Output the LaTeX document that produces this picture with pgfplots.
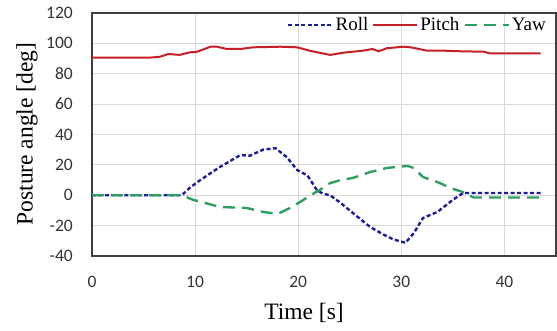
\documentclass[border=0pt]{standalone}
\usepackage{fontspec}
\setmainfont{Liberation Serif}
\newfontfamily\carlito{Carlito}
\usepackage{pgfplots}
\pgfplotsset{compat=1.18}
\definecolor{rollc}{HTML}{1C1C9C}
\definecolor{pitchc}{HTML}{C81E28}
\definecolor{yawc}{HTML}{2E9E62}
\definecolor{gridc}{HTML}{D9D9D9}
\definecolor{framec}{HTML}{404040}
\begin{document}
\begin{tikzpicture}
\path[use as bounding box] (-92pt,-75pt) rectangle (465pt,256pt);
\begin{axis}[
  at={(0,0)}, anchor=south west,
  scale only axis, width=464pt, height=243pt,
  xmin=0, xmax=45, ymin=-40, ymax=120,
  xtick={0,10,20,30,40}, ytick={-40,-20,0,20,40,60,80,100,120},
  major tick length=0pt,
  grid=major,
  major grid style={gridc, line width=0.9pt},
  axis line style={framec, line width=1.3pt},
  /pgf/number format/assume math mode=true,
  ticklabel style={font=\carlito\fontsize{17.5}{20}\selectfont, text=black!80},
  yticklabel style={anchor=east, inner sep=0pt, xshift=-19pt},
  xticklabel style={anchor=center, inner sep=0pt, yshift=-26pt},
  xlabel={Time [s]}, ylabel={Posture angle [deg]},
  label style={font=\fontsize{23.5}{26}\selectfont},
  xlabel style={at={(axis description cs:0.457,-0.2346)}, anchor=center},
  ylabel style={at={(axis description cs:-0.14,0.502)}, anchor=center},
  legend style={at={(rel axis cs:0.985,0.995)}, anchor=north east, draw=none, fill=none,
    font=\fontsize{19}{22}\selectfont, legend columns=3,
    /tikz/every even column/.append style={column sep=2pt},
    /tikz/every odd column/.append style={column sep=0pt},
    inner sep=1pt, cells={anchor=west}},
  legend image code/.code={\draw[#1] (0pt,0pt) -- (44pt,0pt);},
]
\addplot[rollc, line width=2.4pt, dash pattern=on 4pt off 2.5pt] coordinates {
(0,0)(8.7,0)(9.5,5)(10.5,10)(12.4,18.6)(14.4,26.5)(15.3,26)(16.6,30)(17.8,31)(18.9,25)(19.9,16.6)(20.9,13)(21.8,3.5)(22.4,1)(23.1,0)(24.1,-5)(25.3,-11.7)(27,-21)(28.3,-26)(29.2,-29)(30.4,-31.3)(31.2,-25)(32.1,-15)(33.5,-11)(35,-3)(36,1.5)(43.5,1.5)};
\addlegendentry{Roll\hspace{8pt}}
\addplot[pitchc, line width=2pt] coordinates {
(0,90.6)(5.6,90.6)(6.6,91.2)(7.4,93)(8.5,92.4)(9.5,94.1)(10.2,94.5)(11.5,97.8)(12.1,97.8)(13.1,96.3)(14.4,96.3)(15.6,97.4)(18.3,97.8)(19.9,97.4)(21.2,95)(23.1,92.4)(24.4,93.9)(26.3,95.2)(27.2,96.3)(27.8,94.8)(28.6,96.8)(30.2,97.8)(30.9,97.4)(32.5,95.2)(34.1,95.2)(35.7,94.8)(38,94.5)(38.6,93.4)(43.5,93.4)};
\addlegendentry{Pitch\hspace{8pt}}
\addplot[yawc, line width=2.4pt, dash pattern=on 12pt off 7pt] coordinates {
(0,0)(8.7,0)(9.8,-3)(12.4,-7.7)(15,-8.4)(16.6,-11)(18,-12.3)(19.2,-8.4)(20.2,-4.4)(21.2,0)(22.1,3.5)(23.1,8)(24.1,10)(25.3,11.4)(27,15.3)(28.6,18)(30.6,19.3)(31.2,18)(32.1,12)(33.5,8.7)(34.8,4.7)(36,2)(37,-1.5)(43.5,-1.5)};
\addlegendentry{Yaw}
\end{axis}
\end{tikzpicture}
\end{document}
